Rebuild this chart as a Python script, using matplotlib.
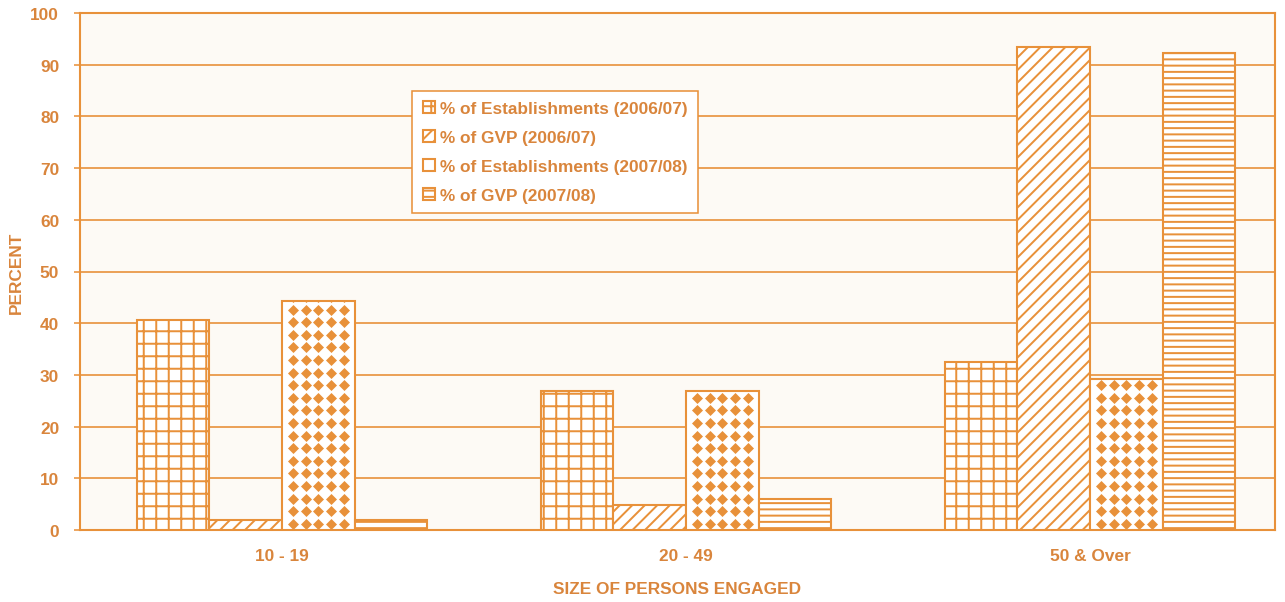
import numpy as np
import matplotlib
matplotlib.use("Agg")
import matplotlib.pyplot as plt

# values (percent)
groups = ["10 - 19", "20 - 49", "50 & Over"]
series = ["% of Establishments (2006/07)", "% of GVP (2006/07)",
          "% of Establishments (2007/08)", "% of GVP (2007/08)"]
est_0607 = [40.6, 26.8, 32.5]
gvp_0607 = [2.0, 4.8, 93.4]
est_0708 = [44.2, 26.8, 29.2]
gvp_0708 = [1.9, 5.9, 92.3]

line_col = "#E8913A"
text_col = "#D9853C"

plt.rcParams["font.family"] = ["Liberation Sans", "DejaVu Sans"]
plt.rcParams["font.weight"] = "bold"
plt.rcParams["axes.labelweight"] = "bold"
plt.rcParams["hatch.linewidth"] = 1.9

DPI = 75
fig = plt.figure(figsize=(1285 / DPI, 603 / DPI), dpi=DPI)
ax = fig.add_axes([80 / 1285, 1 - 531 / 603, 1195 / 1285, 517 / 603])
ax.set_facecolor("#FDFAF5")

x = np.arange(len(groups))
w = 0.18
offsets = [-1.5 * w, -0.5 * w, 0.5 * w, 1.5 * w]
hatches = ["+", "//", "", "--"]

bars = []
for vals, off, h, name in zip([est_0607, gvp_0607, est_0708, gvp_0708],
                              offsets, hatches, series):
    b = ax.bar(x + off, vals, w, facecolor="white", edgecolor=line_col,
               hatch=h, linewidth=2, label=name, zorder=3)
    bars.append(b)

# diamond pattern for the 2007/08 establishments bars
dx = 12.8 / 404
dy = 12.6 / 5.17
for rect in bars[2]:
    x0 = rect.get_x()
    top = rect.get_height()
    xs = x0 + w / 2 + dx * np.arange(-2, 3)
    ys = np.arange(dy * 0.5, top + dy, dy)
    gx, gy = np.meshgrid(xs, ys)
    sc = ax.scatter(gx.ravel(), gy.ravel(), marker="D", s=56,
                    color=line_col, linewidths=0, zorder=4)
    sc.set_clip_path(rect)

ax.set_xlim(-0.5, 2.458)
ax.set_ylim(0, 100)
ax.set_yticks(range(0, 101, 10))
ax.set_xticks(x)
ax.set_xticklabels(groups)
ax.yaxis.grid(True, color=line_col, linewidth=1.6, zorder=1)
ax.set_axisbelow(True)

for s in ax.spines.values():
    s.set_color(line_col)
    s.set_linewidth(2)

fs = 16.5
ax.tick_params(axis="y", colors=line_col, labelcolor=text_col, length=6,
               width=1.5, labelsize=fs, pad=14)
ax.tick_params(axis="x", length=0, labelcolor=text_col, labelsize=fs, pad=17)

ax.set_ylabel("PERCENT", color=text_col, fontsize=fs, labelpad=6)
ax.set_xlabel("SIZE OF PERSONS ENGAGED", color=text_col, fontsize=fs,
              labelpad=18)

leg = ax.legend(loc="upper left", bbox_to_anchor=(0.278, 0.849),
                borderaxespad=0, fancybox=False, framealpha=1,
                edgecolor=line_col, fontsize=fs, handlelength=0.7,
                handleheight=0.7, handletextpad=0.3, labelspacing=0.8,
                borderpad=0.6)
leg.get_frame().set_linewidth(1.5)
for t in leg.get_texts():
    t.set_color(text_col)

fig.savefig("out.png", dpi=DPI, facecolor="white")
